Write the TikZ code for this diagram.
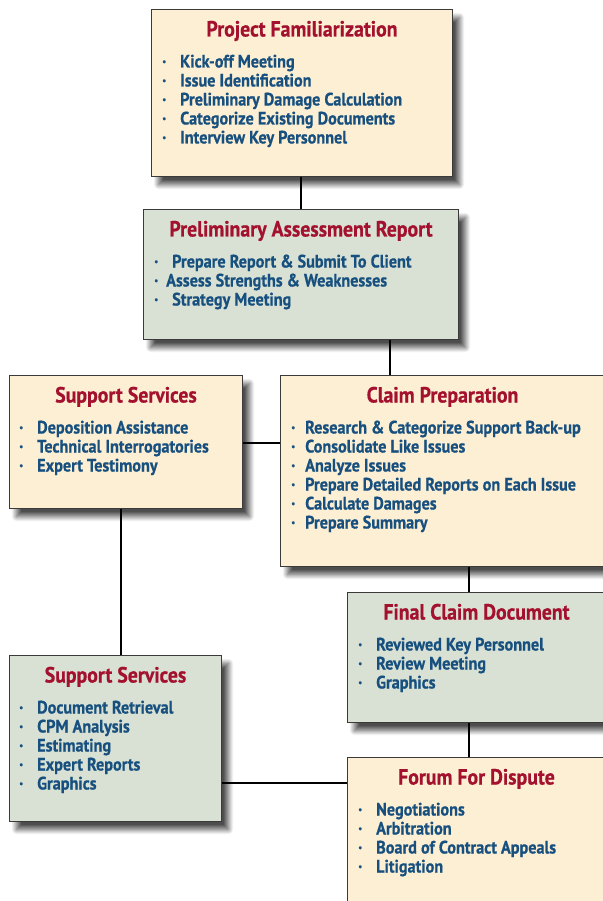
\documentclass[tikz,border=0pt]{standalone}
\usepackage{fontspec}
\setmainfont{PT Sans}[FakeStretch=0.9, BoldFeatures={FakeBold=0.6}]
\usetikzlibrary{shadows.blur}

\definecolor{cream}{HTML}{FDEFD3}
\definecolor{sage}{HTML}{D8E1D3}
\definecolor{titlered}{HTML}{A3112E}
\definecolor{itemblue}{HTML}{17507F}
\definecolor{rim}{HTML}{3A3A3A}

\tikzset{
  card/.style={draw=rim, line width=1pt, anchor=north west, inner sep=0pt,
    blur shadow={shadow xshift=7pt, shadow yshift=-8pt, shadow blur steps=10,
      shadow blur radius=5pt, shadow opacity=70}},
  cardtitle/.style={anchor=base, text=titlered, inner sep=0pt,
    font=\bfseries\fontsize{22}{24}\selectfont},
  carditems/.style={anchor=base west, text=itemblue, inner sep=0pt,
    font=\bfseries\fontsize{18}{19}\selectfont},
  link/.style={line width=1.8pt, black}
}
\newcommand\bul[1][18pt]{\makebox[#1][l]{·}}

\begin{document}
\begin{tikzpicture}[x=1pt, y=-1pt]
    \useasboundingbox (0,0) rectangle (602,901);
    % project familiarization
    \node[card, fill=cream, minimum width=301pt, minimum height=167pt] (pf) at (151,9) {};
    \node[cardtitle] (pft) at ([yshift=-27.5pt]pf.north) {Project Familiarization};
    \node[carditems] (pfi) at ([shift={(11,58.5)}]pf.north west) {\begin{tabular}[t]{@{}l@{}}
        \bul Kick-off Meeting\\ \bul Issue Identification\\ \bul Preliminary Damage Calculation\\
        \bul Categorize Existing Documents\\ \bul Interview Key Personnel\end{tabular}};
    % preliminary assessment
    \node[card, fill=sage, minimum width=315pt, minimum height=130pt] (par) at (143,209) {};
    \node[cardtitle] (part) at ([yshift=-27.5pt]par.north) {Preliminary Assessment Report};
    \node[carditems] (pari) at ([shift={(11,58.5)}]par.north west) {\begin{tabular}[t]{@{}l@{}}
        \bul Prepare Report \& Submit To Client\\ \bul[12pt]Assess Strengths \& Weaknesses\\
        \bul Strategy Meeting\end{tabular}};
    % support services, upper
    \node[card, fill=cream, minimum width=233pt, minimum height=133pt] (ssa) at (9,375) {};
    \node[cardtitle] (ssat) at ([yshift=-27.5pt]ssa.north) {Support Services};
    \node[carditems] (ssai) at ([shift={(10,58.5)}]ssa.north west) {\begin{tabular}[t]{@{}l@{}}
        \bul Deposition Assistance\\ \bul Technical Interrogatories\\ \bul Expert Testimony\end{tabular}};
    % claim preparation
    \node[card, fill=cream, minimum width=324pt, minimum height=191pt] (cp) at (280,375) {};
    \node[cardtitle] (cpt) at ([yshift=-27.5pt]cp.north) {Claim Preparation};
    \node[carditems] (cpi) at ([shift={(11,58.5)}]cp.north west) {\begin{tabular}[t]{@{}l@{}}
        \bul[14pt]Research \& Categorize Support Back-up\\ \bul[14pt]Consolidate Like Issues\\
        \bul[14pt]Analyze Issues\\ \bul[14pt]Prepare Detailed Reports on Each Issue\\
        \bul[14pt]Calculate Damages\\ \bul[14pt]Prepare Summary\end{tabular}};
    % final claim document
    \node[card, fill=sage, minimum width=258pt, minimum height=130pt] (fcd) at (347,592) {};
    \node[cardtitle] (fcdt) at ([yshift=-27.5pt]fcd.north) {Final Claim Document};
    \node[carditems] (fcdi) at ([shift={(11,58.5)}]fcd.north west) {\begin{tabular}[t]{@{}l@{}}
        \bul Reviewed Key Personnel\\ \bul Review Meeting\\ \bul Graphics\end{tabular}};
    % support services, lower
    \node[card, fill=sage, minimum width=212pt, minimum height=166pt] (ssb) at (9,655) {};
    \node[cardtitle] (ssbt) at ([yshift=-27.5pt]ssb.north) {Support Services};
    \node[carditems] (ssbi) at ([shift={(10,58.5)}]ssb.north west) {\begin{tabular}[t]{@{}l@{}}
        \bul Document Retrieval\\ \bul CPM Analysis\\ \bul Estimating\\ \bul Expert Reports\\
        \bul Graphics\end{tabular}};
    % forum for dispute
    \node[card, fill=cream, minimum width=258pt, minimum height=150pt] (ffd) at (347,757) {};
    \node[cardtitle] (ffdt) at ([yshift=-27.5pt]ffd.north) {Forum For Dispute};
    \node[carditems] (ffdi) at ([shift={(11,58.5)}]ffd.north west) {\begin{tabular}[t]{@{}l@{}}
        \bul Negotiations\\ \bul Arbitration\\ \bul Board of Contract Appeals\\ \bul Litigation\end{tabular}};
    % links
    \draw[link] (pf.south -| 301,0) -- (par.north -| 301,0);
    \draw[link] (par.south -| 390,0) -- (cp.north -| 390,0);
    \draw[link] (ssa.east |- 0,443) -- (cp.west |- 0,443);
    \draw[link] (ssa.south -| 121,0) -- (ssb.north -| 121,0);
    \draw[link] (cp.south -| 469,0) -- (fcd.north -| 469,0);
    \draw[link] (fcd.south -| 469,0) -- (ffd.north -| 469,0);
    \draw[link] (ssb.east |- 0,783) -- (ffd.west |- 0,783);
\end{tikzpicture}
\end{document}
